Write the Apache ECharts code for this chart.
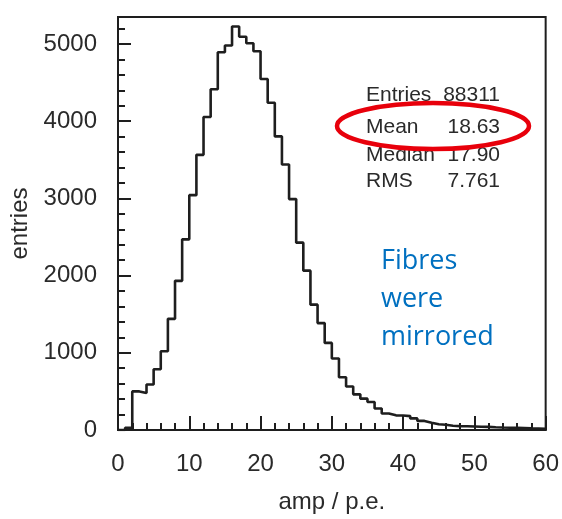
<!DOCTYPE html>
<html>
<head>
<meta charset="utf-8">
<script src="https://cdn.jsdelivr.net/npm/echarts@6/dist/echarts.min.js"></script>
<style>
html,body{margin:0;padding:0;background:#fff;}
#chart{width:562px;height:519px;}
</style>
</head>
<body>
<div id="chart"></div>
<script>
// Histogram bins: lower edge of each bin (amp / p.e.) and entries per bin
const binLowEdges = [0,1,2,3,4,5,6,7,8,9,10,11,12,13,14,15,16,17,18,19,20,21,22,23,24,25,26,27,28,29,30,31,32,33,34,35,36,37,38,39,40,41,42,43,44,45,46,47,48,49,50,51,52,53,54,55,56,57,58,59];
const binUpperLast = 60;
const binEntries = [0,30,500,478,590,786,1021,1440,1932,2470,3042,3564,4055,4414,4893,4980,5227,5094,5009,4906,4547,4239,3803,3440,2991,2427,2064,1624,1385,1128,927,684,564,462,406,363,278,214,190,188,180,150,118,95,75,68,55,50,48,45,42,40,35,32,30,28,25,22,20,15];

// Axis ticks
const xMin = 0, xMax = 60, xInterval = 10;
const yMin = 0, yMax = 5350;
const yMajorTicks = [0,1000,2000,3000,4000,5000];
const yMinorTicks = [200,400,600,800,1200,1400,1600,1800,2200,2400,2600,2800,3200,3400,3600,3800,4200,4400,4600,4800,5200];

// Stats box
const statNames = ['Entries','Mean','Median','RMS'];
const statValues = ['88311','18.63','17.90','7.761'];
const noteLines = ['Fibres','were','mirrored'];

const histData = binLowEdges.map((e,i)=>[e, binEntries[i]]);
histData.push([binUpperLast, binEntries[binEntries.length-1]]);

const txtColor = '#2a2a2a';
const fontFam = '"Liberation Sans", Arial, sans-serif';
const chart = echarts.init(document.getElementById('chart'), null, {renderer:'canvas'});

const graphics = [];
const statY = [95,127,155,181];
statNames.forEach((n,i)=>{
  graphics.push({type:'text', x:366, y:statY[i], z:10,
    style:{text:n, fill:txtColor, font:'21px ' + fontFam, align:'left', verticalAlign:'middle'}});
  graphics.push({type:'text', x:500, y:statY[i], z:10,
    style:{text:statValues[i], fill:txtColor, font:'21px ' + fontFam, align:'right', verticalAlign:'middle'}});
});
graphics.push({type:'ellipse', z:20, shape:{cx:433, cy:126, rx:96, ry:23},
  style:{fill:'none', stroke:'#e8000b', lineWidth:4.5}});
const noteY = [261,299,337];
noteLines.forEach((t,i)=>{
  graphics.push({type:'text', x:381, y:noteY[i], z:10,
    style:{text:t, fill:'#0070c0', font:'27px "Open Sans", sans-serif', align:'left', verticalAlign:'middle'}});
});

chart.setOption({
  animation:false,
  backgroundColor:'#fff',
  grid:{left:118, right:16, top:17, bottom:84, show:true, borderColor:'#1e1e1e', borderWidth:2, backgroundColor:'transparent'},
  xAxis:{
    type:'value', min:xMin, max:xMax, interval:xInterval,
    name:'amp / p.e.', nameLocation:'middle', nameGap:60,
    nameTextStyle:{fontSize:24, color:txtColor, fontFamily:fontFam},
    axisLine:{show:true, lineStyle:{color:'#1e1e1e', width:2}},
    axisTick:{show:true, inside:true, length:14, lineStyle:{color:'#1e1e1e', width:2}},
    minorTick:{show:true, splitNumber:5, length:7, lineStyle:{color:'#1e1e1e', width:2}},
    axisLabel:{fontSize:24, color:txtColor, margin:22, fontFamily:fontFam},
    splitLine:{show:false}
  },
  yAxis:[{
    type:'value', min:yMin, max:yMax,
    name:'entries', nameLocation:'middle', nameGap:86, nameRotate:90,
    nameTextStyle:{fontSize:24, color:txtColor, fontFamily:fontFam},
    axisLine:{show:true, lineStyle:{color:'#1e1e1e', width:2}},
    axisTick:{show:true, inside:true, length:13, customValues:yMajorTicks, lineStyle:{color:'#1e1e1e', width:2}},
    axisLabel:{fontSize:24, color:txtColor, margin:21, customValues:yMajorTicks, fontFamily:fontFam,
      formatter:(v)=>String(v)},
    splitLine:{show:false}
  },{
    type:'value', min:yMin, max:yMax, position:'left',
    axisLine:{show:false},
    axisTick:{show:true, inside:true, length:7, customValues:yMinorTicks, lineStyle:{color:'#1e1e1e', width:2}},
    axisLabel:{show:false, customValues:yMinorTicks},
    splitLine:{show:false}
  }],
  series:[{
    type:'line', step:'end', data:histData, symbol:'none', yAxisIndex:0,
    lineStyle:{color:'#1e1e1e', width:2.6}, clip:true
  }],
  graphic:graphics
});
</script>
</body>
</html>
